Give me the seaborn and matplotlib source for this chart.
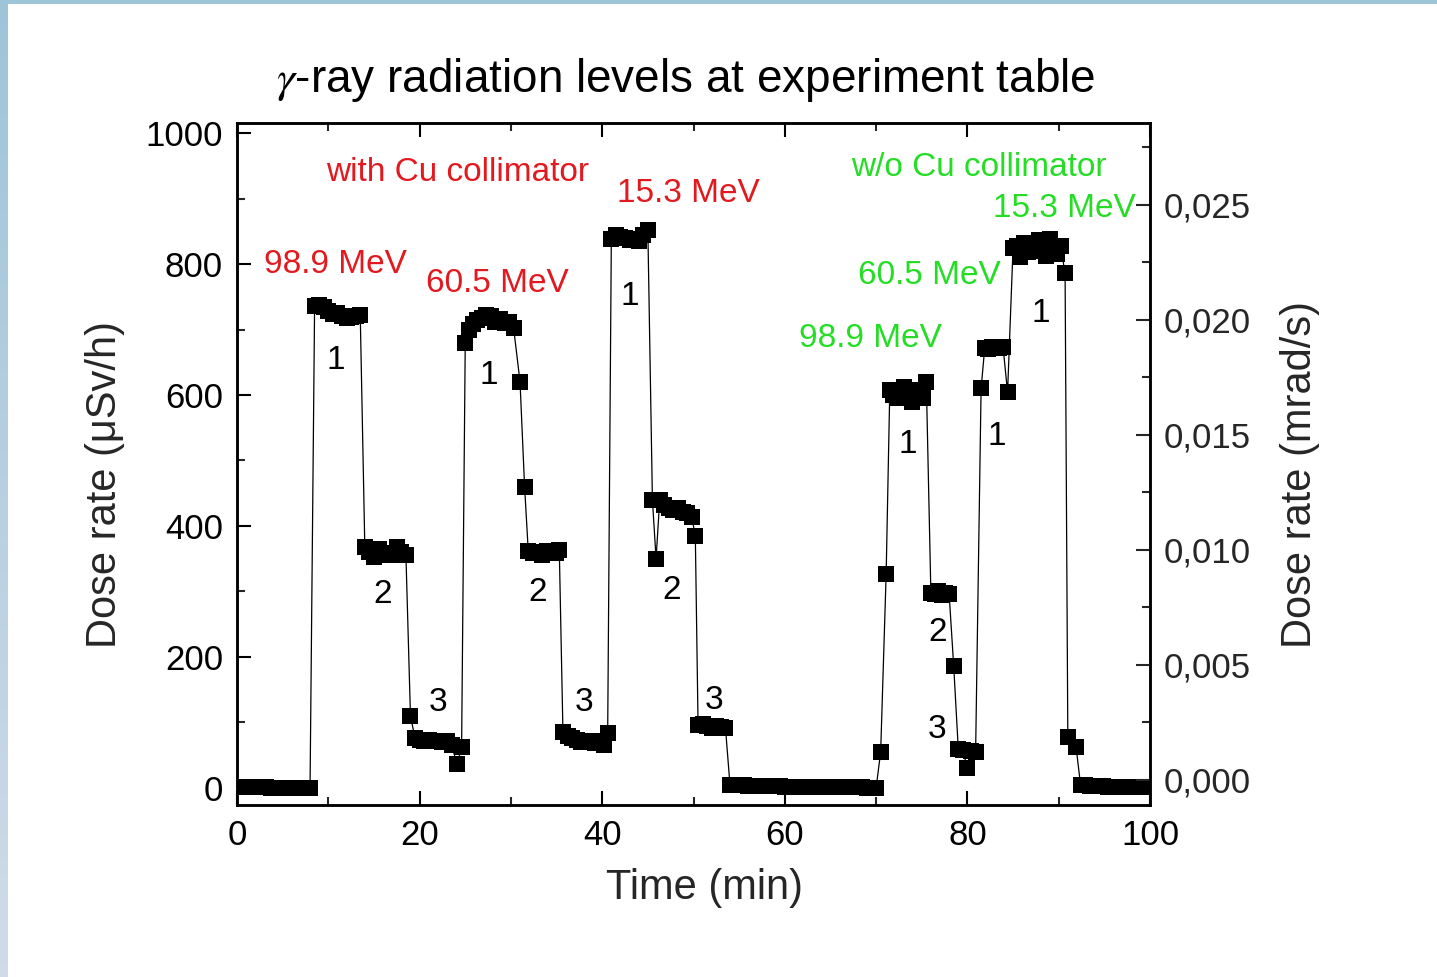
import numpy as np
import pandas as pd
import matplotlib
matplotlib.use("Agg")
import matplotlib.pyplot as plt
from matplotlib.ticker import MultipleLocator, FuncFormatter, FixedLocator
import seaborn as sns

# ---------------- data ----------------
time_min = [
    # background before first run
    0.7, 1.2, 1.7, 2.2, 2.7, 3.2, 3.7, 4.2, 4.7, 5.2, 5.7, 6.2, 6.7, 7.2, 7.6, 8.0,
    # 98.9 MeV with Cu, position 1
    8.5, 9.0, 9.5, 10.0, 10.5, 11.0, 11.5, 12.0, 12.5, 13.0, 13.5,
    # position 2
    14.0, 14.5, 15.0, 15.5, 16.0, 16.5, 17.0, 17.5, 18.0, 18.5,
    19.0,
    # position 3
    19.5, 20.0, 20.5, 21.0, 21.5, 22.0, 22.5, 23.0, 23.5, 24.1, 24.6,
    # 60.5 MeV with Cu, position 1
    25.0, 25.4, 25.8, 26.3, 26.8, 27.3, 27.8, 28.3, 28.8, 29.3, 29.8, 30.3,
    31.0, 31.5,
    # position 2
    31.9, 32.4, 32.9, 33.4, 33.9, 34.4, 34.9, 35.3,
    # position 3
    35.7, 36.2, 36.7, 37.2, 37.7, 38.2, 38.7, 39.2, 39.7, 40.2, 40.6,
    # 15.3 MeV with Cu, position 1
    41.0, 41.5, 42.0, 42.5, 43.0, 43.5, 44.0, 44.5, 45.0,
    # position 2
    45.5, 45.9, 46.3, 46.8, 47.3, 47.8, 48.3, 48.8, 49.3, 49.8, 50.2,
    # position 3
    50.5, 51.0, 51.5, 52.0, 52.5, 53.0, 53.5,
    # background between runs
    54.0, 54.5, 55.0, 55.5, 56.0, 56.5, 57.0, 57.5, 58.0, 58.5, 59.0,
    59.5, 60.0, 60.5, 61.0, 61.5, 62.0, 62.5, 63.0, 63.5, 64.0, 64.5,
    65.0, 65.5, 66.0, 66.5, 67.0, 67.5, 68.0, 68.5, 69.0, 69.5, 70.0,
    70.5, 71.1,
    # 98.9 MeV w/o Cu, position 1
    71.5, 71.9, 72.3, 72.7, 73.1, 73.5, 73.9, 74.3, 74.7, 75.1, 75.5,
    # position 2
    76.0, 76.4, 76.8, 77.2, 77.6, 78.0,
    78.5,
    # position 3
    79.0, 79.5, 80.0, 80.4, 80.9,
    # 60.5 MeV w/o Cu
    81.5,
    81.9, 82.3, 82.7, 83.1, 83.5, 83.9,
    84.4,
    # 15.3 MeV w/o Cu
    85.0, 85.4, 85.8, 86.2, 86.6, 87.0, 87.4, 87.8, 88.2, 88.6, 89.0, 89.4, 89.8, 90.2,
    90.7, 91.0, 91.9,
    # background after runs
    92.4, 92.9, 93.4, 93.9, 94.4, 94.9, 95.4, 95.9, 96.4, 96.9, 97.4, 97.9, 98.4, 98.9, 99.3,
]

dose_usvh = [
    1, 1, 1, 1, 1, 1, 0, 0, 0, 0, 0, 0, 0, 0, 0, 0,
    736, 737, 735, 728, 724, 725, 720, 718, 719, 721, 722,
    368, 360, 352, 365, 358, 355, 356, 368, 360, 356,
    110,
    76, 73, 72, 73, 71, 72, 70, 71, 66, 36, 62,
    680, 700, 708, 715, 718, 722, 720, 712, 716, 710, 712, 702,
    620, 460,
    362, 358, 360, 356, 362, 360, 358, 364,
    86, 80, 76, 74, 70, 72, 70, 68, 72, 66, 84,
    838, 845, 842, 840, 836, 838, 835, 845, 852,
    440, 350, 440, 432, 428, 425, 428, 422, 420, 414, 385,
    96, 98, 94, 92, 95, 93, 92,
    4, 4, 4, 4, 3, 3, 3, 3, 3, 3, 3,
    3, 2, 2, 2, 2, 2, 2, 2, 2, 2, 2,
    1, 1, 1, 1, 1, 1, 1, 1, 0, 0, 0,
    55, 326,
    608, 600, 596, 604, 612, 598, 590, 608, 600, 596, 620,
    298, 296, 300, 294, 298, 296,
    186,
    60, 58, 30, 57, 55,
    610,
    672, 670, 673, 671, 672, 674,
    604,
    825, 828, 810, 832, 818, 830, 820, 836, 822, 812, 838, 825, 815, 828,
    786, 78, 63,
    4, 4, 3, 3, 3, 3, 2, 2, 2, 2, 2, 1, 1, 1, 1,
]

x_ticks = [0, 20, 40, 60, 80, 100]
y_ticks = [0, 200, 400, 600, 800, 1000]
y2_ticks = [0.000, 0.005, 0.010, 0.015, 0.020, 0.025]

# energy labels: (text, time, dose)
red_labels = ["with Cu collimator", "98.9 MeV", "60.5 MeV", "15.3 MeV"]
red_label_t = [24.2, 10.8, 28.5, 49.4]
red_label_v = [939, 800, 771, 908]

green_labels = ["w/o Cu collimator", "15.3 MeV", "60.5 MeV", "98.9 MeV"]
green_label_t = [81.2, 90.6, 75.8, 69.4]
green_label_v = [948, 884, 782, 687]

pos_labels = ["1", "2", "3", "1", "2", "3", "1", "2", "3", "1", "2", "3", "1", "1"]
pos_label_t = [10.8, 16.0, 22.0, 27.6, 32.9, 38.0, 43.0, 47.6, 52.2, 73.5, 76.7, 76.7, 83.2, 88.0]
pos_label_v = [652, 296, 131, 630, 299, 130, 751, 302, 133, 525, 237, 90, 536, 725]

df = pd.DataFrame({"time": time_min, "dose": dose_usvh})

# ---------------- style ----------------
sns.set_style("ticks")
plt.rcParams["font.family"] = ["Liberation Sans", "DejaVu Sans"]
plt.rcParams["mathtext.fontset"] = "stix"

W, H = 1437, 977
fig = plt.figure(figsize=(W / 100, H / 100), dpi=100)
fig.patch.set_facecolor("white")

# light-blue frame (left strip with gradient + thin top strip)
bg = fig.add_axes([0, 0, 1, 1], zorder=-10)
bg.set_xlim(0, W)
bg.set_ylim(0, H)
bg.axis("off")
top_c = np.array([0.62, 0.77, 0.85])
bot_c = np.array([0.82, 0.86, 0.91])
grad = np.linspace(0, 1, 256)[:, None, None]
strip = bot_c * (1 - grad) + top_c * grad
bg.imshow(strip, extent=[0, 8, 0, H], origin="lower", aspect="auto")
bg.imshow(np.tile(top_c, (1, 2, 1)), extent=[0, W, H - 4, H], aspect="auto")

L, R, B, T = 237, 1150, 805, 123
ax = fig.add_axes([L / W, 1 - B / H, (R - L) / W, (B - T) / H])

sns.lineplot(data=df, x="time", y="dose", sort=False, estimator=None,
             color="black", linewidth=0.9, marker="s", markersize=11.5,
             markeredgewidth=0, ax=ax)

ax.set_xlim(0, 100)
ax.set_ylim(-26, 1015.3)
ax.xaxis.set_major_locator(FixedLocator(x_ticks))
ax.xaxis.set_minor_locator(MultipleLocator(10))
ax.yaxis.set_major_locator(FixedLocator(y_ticks))
ax.yaxis.set_minor_locator(MultipleLocator(100))

lw_spine = 1.8
for s in ax.spines.values():
    s.set_linewidth(lw_spine)
    s.set_color("black")
    s.set_visible(True)

ax.tick_params(axis="both", which="major", direction="in", length=10, width=1.5,
               labelsize=25, pad=10, colors="black")
ax.tick_params(axis="both", which="minor", direction="in", length=5.5, width=1.5)
ax.tick_params(axis="x", which="both", top=True, bottom=True)
ax.tick_params(axis="y", which="both", left=True, right=False)

ax.set_xlabel("Time (min)", fontsize=30, va="center")
ax.xaxis.set_label_coords((704 - L) / (R - L), (B - 888) / (B - T))
ax.set_ylabel("Dose rate (\u03bcSv/h)", fontsize=30, va="center")
ax.yaxis.set_label_coords((105 - L) / (R - L), (B - 484) / (B - T))

ax2 = ax.twinx()
ax2.set_ylim(-0.001087, 0.028565)
ax2.yaxis.set_major_locator(FixedLocator(y2_ticks))
ax2.yaxis.set_minor_locator(MultipleLocator(0.0025))
ax2.yaxis.set_major_formatter(FuncFormatter(lambda v, p: f"{v:.3f}".replace(".", ",")))
ax2.tick_params(axis="y", which="major", direction="in", length=10, width=1.5,
                labelsize=25, pad=10, right=True, left=False)
ax2.tick_params(axis="y", which="minor", direction="in", length=5.5, width=1.5,
                right=True, left=False)
for s in ax2.spines.values():
    s.set_linewidth(lw_spine)
    s.set_color("black")
ax2.set_ylabel("Dose rate (mrad/s)", fontsize=30, va="center", rotation=90)
ax2.yaxis.set_label_coords((1300 - L) / (R - L), (B - 474) / (B - T))

red = "#E2191F"
green = "#25DD25"
for txt, t, v in zip(red_labels, red_label_t, red_label_v):
    ax.text(t, v, txt, color=red, fontsize=24, ha="center", va="center")
for txt, t, v in zip(green_labels, green_label_t, green_label_v):
    ax.text(t, v, txt, color=green, fontsize=24, ha="center", va="center")
for txt, t, v in zip(pos_labels, pos_label_t, pos_label_v):
    ax.text(t, v, txt, color="black", fontsize=24, ha="center", va="center")

fig.text(686 / W, 1 - 80 / H, r"$\gamma$-ray radiation levels at experiment table",
         fontsize=33, ha="center", va="center", color="black")

fig.savefig("out.png", dpi=100, facecolor="white")
